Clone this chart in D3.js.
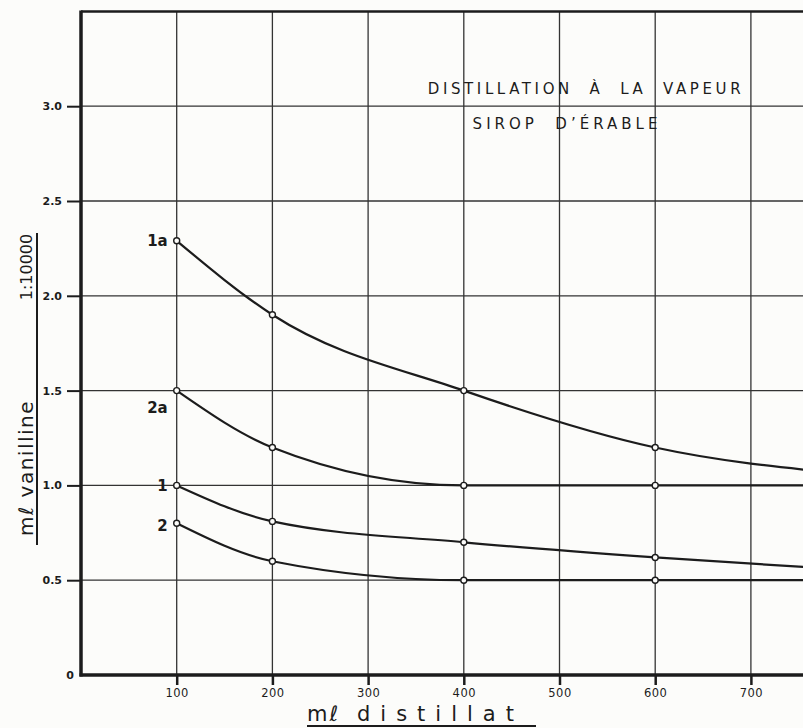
<!DOCTYPE html>
<html>
<head>
<meta charset="utf-8">
<script src="https://cdn.jsdelivr.net/npm/d3@7"></script>
<style>
  body { margin: 0; background: #fcfcfa; }
  svg { display: block; }
</style>
</head>
<body>
<svg id="chart" width="803" height="728"></svg>
<script>
// ml distillat on x, ml vanilline 1:10000 on y
var xValues = [100, 200, 400, 600, 800];
var series1a = [2.29, 1.90, 1.50, 1.20, 1.06];
var series2a = [1.50, 1.20, 1.00, 1.00, 1.00];
var series1  = [1.00, 0.81, 0.70, 0.62, 0.555];
var series2  = [0.80, 0.60, 0.50, 0.50, 0.50];
var seriesNames = ["1a", "2a", "1", "2"];
var xTicks = [100, 200, 300, 400, 500, 600, 700];
var yTicks = [0.5, 1.0, 1.5, 2.0, 2.5, 3.0];
var yTickLabels = ["0.5", "1.0", "1.5", "2.0", "2.5", "3.0"];
var titleLines = ["DISTILLATION  \u00C0  LA  VAPEUR", "SIROP  D\u2019\u00C9RABLE"];

var ink = "#1c1c1c";
var font = "DejaVu Sans";

var svg = d3.select("#chart");

var x = d3.scaleLinear().domain([0, 800]).range([81, 846.6]);
var y = d3.scaleLinear().domain([0, 3.5]).range([675, 11.4]);

// grid
svg.append("g").selectAll("line.v")
    .data(xTicks.concat([800]))
    .enter().append("line")
    .attr("x1", function(d){ return x(d); })
    .attr("x2", function(d){ return x(d); })
    .attr("y1", y(3.5))
    .attr("y2", y(0))
    .attr("stroke", "#333")
    .attr("stroke-width", 1.3);

svg.append("g").selectAll("line.h")
    .data(yTicks)
    .enter().append("line")
    .attr("x1", x(0))
    .attr("x2", x(800))
    .attr("y1", function(d){ return y(d); })
    .attr("y2", function(d){ return y(d); })
    .attr("stroke", "#333")
    .attr("stroke-width", 1.3);

// frame
svg.append("line")
    .attr("x1", x(0)).attr("x2", x(800))
    .attr("y1", y(3.5)).attr("y2", y(3.5))
    .attr("stroke", ink).attr("stroke-width", 2.5);

// y axis
var yAxis = d3.axisLeft(y)
    .tickValues(yTicks)
    .tickSize(14)
    .tickFormat(function(d, i){ return yTickLabels[i]; });

var gy = svg.append("g")
    .attr("transform", "translate(" + x(0) + ",0)")
    .call(yAxis);
gy.select(".domain").remove();
gy.selectAll(".tick line").attr("stroke", ink).attr("stroke-width", 2);
gy.selectAll(".tick text")
    .attr("font-family", font)
    .attr("font-size", 11)
    .attr("font-weight", "bold")
    .attr("fill", ink)
    .attr("x", -19);

svg.append("text")
    .attr("x", 74).attr("y", y(0) + 4)
    .attr("text-anchor", "end")
    .attr("font-family", font).attr("font-size", 11).attr("font-weight", "bold")
    .attr("fill", ink)
    .text("0");

// x axis
var xAxis = d3.axisBottom(x)
    .tickValues(xTicks)
    .tickSize(10)
    .tickFormat(d3.format("d"));

var gx = svg.append("g")
    .attr("transform", "translate(0," + y(0) + ")")
    .call(xAxis);
gx.select(".domain").remove();
gx.selectAll(".tick line").attr("stroke", ink).attr("stroke-width", 2.5);
gx.selectAll(".tick text")
    .attr("font-family", font)
    .attr("font-size", 11.5)
    .attr("letter-spacing", 0.5)
    .attr("fill", ink)
    .attr("y", 14);

// thick axis lines
svg.append("line")
    .attr("x1", x(0)).attr("x2", x(0))
    .attr("y1", y(3.5) - 1).attr("y2", y(0) + 1.5)
    .attr("stroke", ink).attr("stroke-width", 3.5);
svg.append("line")
    .attr("x1", x(0) - 1.5).attr("x2", x(800))
    .attr("y1", y(0)).attr("y2", y(0))
    .attr("stroke", ink).attr("stroke-width", 3.5);

// curves
var allSeries = [series1a, series2a, series1, series2];
var line = d3.line()
    .x(function(d, i){ return x(xValues[i]); })
    .y(function(d){ return y(d); })
    .curve(d3.curveMonotoneX);

svg.append("g").selectAll("path.curve")
    .data(allSeries)
    .enter().append("path")
    .attr("d", line)
    .attr("fill", "none")
    .attr("stroke", ink)
    .attr("stroke-width", 2.2);

allSeries.forEach(function(s){
    svg.append("g").selectAll("circle")
        .data(s)
        .enter().append("circle")
        .attr("cx", function(d, i){ return x(xValues[i]); })
        .attr("cy", function(d){ return y(d); })
        .attr("r", 3)
        .attr("fill", "#fcfcfa")
        .attr("stroke", ink)
        .attr("stroke-width", 1.4);
});

// curve names
svg.append("g").selectAll("text.name")
    .data(seriesNames)
    .enter().append("text")
    .attr("x", x(100) - 9)
    .attr("y", function(d, i){
        var off = [5, 22, 6, 8][i];
        return y(allSeries[i][0]) + off;
    })
    .attr("text-anchor", "end")
    .attr("font-family", font)
    .attr("font-size", 15)
    .attr("font-weight", "bold")
    .attr("fill", ink)
    .text(function(d){ return d; });

// title
svg.append("text")
    .attr("x", 586).attr("y", 94)
    .attr("text-anchor", "middle")
    .attr("font-family", font).attr("font-size", 15)
    .attr("letter-spacing", 3.6)
    .attr("fill", ink)
    .style("white-space", "pre")
    .text(titleLines[0]);
svg.append("text")
    .attr("x", 567).attr("y", 129)
    .attr("text-anchor", "middle")
    .attr("font-family", font).attr("font-size", 15)
    .attr("letter-spacing", 4)
    .attr("fill", ink)
    .style("white-space", "pre")
    .text(titleLines[1]);

// y label
svg.append("text")
    .attr("transform", "translate(33,468) rotate(-90)")
    .attr("text-anchor", "middle")
    .attr("font-family", font).attr("font-size", 20)
    .attr("letter-spacing", 1.5)
    .attr("fill", ink)
    .style("white-space", "pre")
    .text("m\u2113 vanilline");
svg.append("text")
    .attr("transform", "translate(32,267) rotate(-90)")
    .attr("text-anchor", "middle")
    .attr("font-family", font).attr("font-size", 16)
    .attr("fill", ink)
    .text("1:10000");
svg.append("line")
    .attr("x1", 37).attr("x2", 37)
    .attr("y1", 233).attr("y2", 545)
    .attr("stroke", ink).attr("stroke-width", 2);

// x label
svg.append("text")
    .attr("x", 307).attr("y", 721)
    .attr("font-family", font).attr("font-size", 21)
    .attr("letter-spacing", 2)
    .attr("fill", ink)
    .text("m\u2113");
svg.append("text")
    .attr("x", 357).attr("y", 721)
    .attr("font-family", font).attr("font-size", 21)
    .attr("letter-spacing", 10)
    .attr("fill", ink)
    .text("distillat");
svg.append("line")
    .attr("x1", 307).attr("x2", 536)
    .attr("y1", 726).attr("y2", 726)
    .attr("stroke", ink).attr("stroke-width", 2);
</script>
</body>
</html>
